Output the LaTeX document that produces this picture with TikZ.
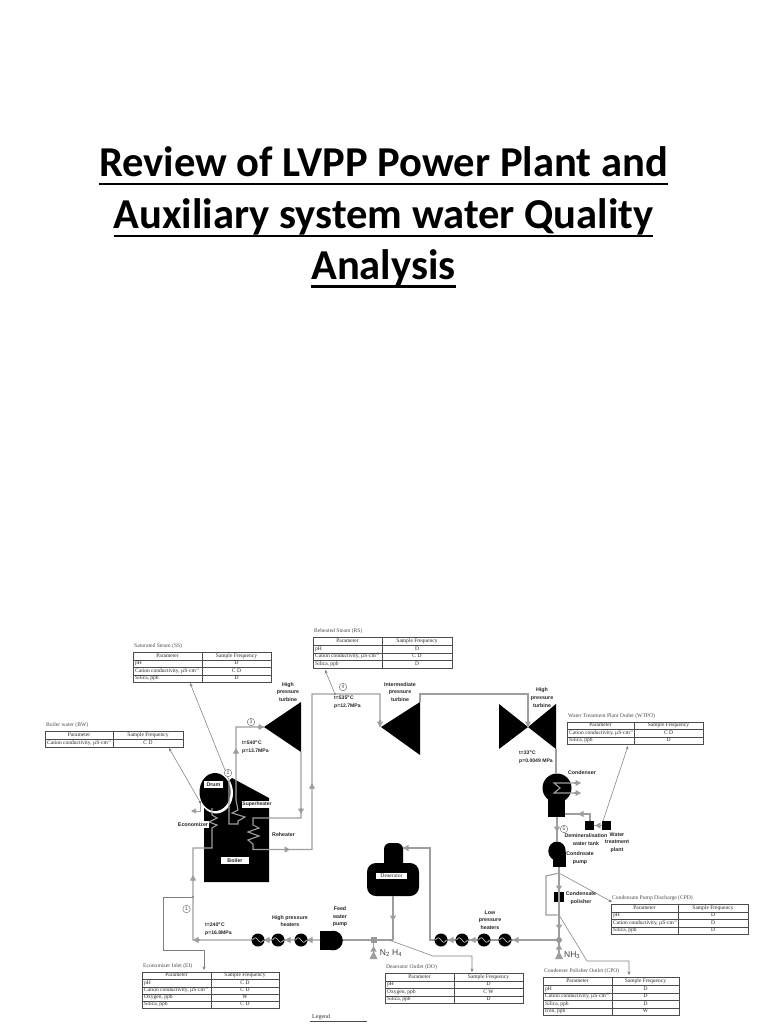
\documentclass[tikz,border=0pt]{standalone}
\usepackage{fontspec}
\setmainfont{Liberation Serif}
\newfontfamily\labelfont{Liberation Sans}
\newfontfamily\titlefont{Carlito}
\usetikzlibrary{arrows.meta,calc}
\newcommand{\ultitle}[1]{\setbox0\hbox{#1}\rlap{\rule[-8.2pt]{\wd0}{2.6pt}}\box0}
\colorlet{pipecol}{black!38}
\colorlet{thincol}{black!50}
\tikzset{
 pipe/.style={draw=pipecol,line width=1.1pt},
 flow/.style={draw=pipecol,line width=1.1pt,-{Triangle[length=5.5pt,width=6pt]}},
 probe/.style={draw=thincol,line width=.55pt},
 probearrow/.style={draw=thincol,line width=.55pt,-{Stealth[length=3.5pt,width=3pt]}},
 tbl/.style={draw=black!70,line width=.6pt},
 celltext/.style={font=\fontsize{5.5}{6}\selectfont,text=black!85,inner sep=0pt,text height=3.7pt,text depth=1.1pt},
 tabtitle/.style={font=\fontsize{5.6}{6}\selectfont,text=black!70,inner sep=0pt,anchor=base west},
 lab/.style={font=\labelfont\bfseries\fontsize{5.3}{7.6}\selectfont,align=center,inner sep=0pt,text=black!85},
 whitelab/.style={lab,fill=white,inner sep=0.8pt,minimum height=7pt},
 state/.style={font=\labelfont\bfseries\fontsize{5.1}{8}\selectfont,align=left,inner sep=0pt,anchor=north west,text=black!85},
 heater/.style={circle,fill=black,minimum size=13pt,inner sep=0pt},
 num/.style={circle,draw=black!60,line width=.4pt,minimum size=7.5pt,inner sep=0pt,font=\labelfont\fontsize{5}{5}\selectfont,text=black!70,fill=white},
 valve/.style={fill=black!40,minimum size=6pt,inner sep=0pt},
 dotj/.style={circle,fill=black!70,minimum size=2.4pt,inner sep=0pt},
 head/.style={font=\titlefont\bfseries\fontsize{42.6}{42}\selectfont,anchor=base,inner sep=0pt},
}
% x0 xm x1 ytop ysplit title rows(y0/y1/param/freq)
\newcommand{\ptable}[7]{%
 \node[tabtitle] at (#1+1,#4-5) {#6};
 \draw[tbl] (#1,#4) rectangle (#2,#5);
 \draw[tbl] (#2,#4) rectangle (#3,#5);
 \node[celltext] at ({(#1+#2)/2},{(#4+#5)/2}) {Parameter};
 \node[celltext] at ({(#2+#3)/2},{(#4+#5)/2}) {Sample Frequency};
 \foreach \ya/\yb/\pa/\fr in {#7} {
  \draw[tbl] (#1,\ya) rectangle (#2,\yb);
  \draw[tbl] (#2,\ya) rectangle (#3,\yb);
  \node[celltext,anchor=west] at (#1+2,{(\ya+\yb)/2}) {\pa};
  \node[celltext] at ({(#2+#3)/2},{(\ya+\yb)/2}) {\fr};
 }
}
\newcommand{\condtxt}{Cation conductivity, µS·cm\textsuperscript{-1}}
\begin{document}
\begin{tikzpicture}[x=1pt,y=-1pt]
\useasboundingbox (0,0) rectangle (768,1024);
% heading
\node[head] (t1) at (383.5,177) {\ultitle{Review of LVPP Power Plant and}};
\node[head] (t2) at (383.5,229) {\ultitle{Auxiliary system water Quality}};
\node[head] (t3) at (383.5,279.5) {\ultitle{Analysis}};
% tables
\ptable{133}{202}{271}{652}{660}{Saturated Steam (SS)}{660/667/pH/D,667/675/\condtxt/C D,675/682/{Silica, ppb}/D}
\ptable{45}{113}{183}{731}{739}{Boiler water (BW)}{739/747/\condtxt/C D}
\ptable{313}{382}{452}{637}{645}{Reheated Steam (RS)}{645/653/pH/D,653/660/\condtxt/C D,660/668/{Silica, ppb}/D}
\ptable{567}{634}{703}{722}{729}{Water Treatment Plant Outlet (WTPO)}{729/737/\condtxt/C D,737/744/{Silica, ppb}/D}
\ptable{611}{678}{748}{904}{912}{Condensate Pump Discharge (CPD)}{912/919/pH/D,919/927/\condtxt/D,927/934/{Silica, ppb}/D}
\ptable{543}{612}{679}{977}{985}{Condenser Polisher  Outlet (CPO)}{985/993/pH/D,993/1000/\condtxt/D,1000/1008/{Silica, ppb}/D,1008/1015/{Iron, ppb}/W}
\ptable{142}{211}{279}{972}{979}{Economizer Inlet (EI)}{979/987/pH/C D,987/994/\condtxt/C D,994/1001/{Oxygen, ppb}/W,1001/1008/{Silica, ppb}/C D}
\ptable{385}{454}{523}{973}{981}{Deaerator Outlet (DO)}{981/988/pH/D,988/996/{Oxygen, ppb}/C W,996/1003/{Silica, ppb}/D}
% named points
\coordinate (hpA) at (264,727); \coordinate (hpT) at (301,702); \coordinate (hpB) at (301,752);
\coordinate (ipA) at (381,727); \coordinate (ipT) at (420,702); \coordinate (ipB) at (420,755);
\coordinate (lpA) at (528,727);
% black equipment
\fill (hpA) -- (hpT) -- (hpB) -- cycle;
\fill (ipA) -- (ipT) -- (ipB) -- cycle;
\fill (499,704) -- (lpA) -- (556,704) -- (556,749) -- (lpA) -- (499,749) -- cycle;
\fill (232,778) -- (269,798) -- (269,882) -- (204,882) -- (204,805) -- cycle;
\fill[white] (216,793) ellipse [x radius=17,y radius=20.5];
\fill (215,792) ellipse [x radius=15.5,y radius=19];
\fill (557,788) circle [radius=14.5];
\fill (548,795) rectangle (565,817);
\fill (557,851) ellipse [x radius=8.7,y radius=9.5];
\fill (553,852) rectangle (566,867);
\fill (320,931) rectangle (331,950);
\fill (333,940.5) circle [radius=9.8];
\fill[rounded corners=6pt] (384,843) rectangle (403,870);
\fill[rounded corners=9pt] (367,863) rectangle (419,896);
\fill (554,892) rectangle (564,902);
\fill (585,821) rectangle (594,830);
\fill (602,821) rectangle (611,830);
% junctions
\node[dotj] (jEI) at (193,897) {};
\node[dotj] (jRS) at (335,694) {};
\node[dotj] (jCPD) at (559,873) {};
\node[dotj] (jCPO) at (559,915) {};
\node[dotj] (jDO) at (389,940) {};
\node[dotj] (jBW) at (200,802) {};
\coordinate (drumOut) at (229,780);
% process pipes
\draw[pipe] (drumOut) -- (229,824) -- (238,824) -- (238,821) -- (245,817) -- (232,813) -- (238,810) -- (236,800) -- (236,727) -- (hpA);
\draw[pipe] (hpB) -- (301,818) -- (253,818) -- (253,825) -- (259,828) -- (248,832) -- (259,836) -- (248,840) -- (253,844) -- (253,849.5) -- (312,849.5) -- (312,694) -- (380,694) -- (380,727);
\draw[pipe] (420,702) -- (420,694) -- (528,694) -- (lpA);
\draw[pipe] (556,749) -- (556,773);
\draw[pipe] (580,783) -- (554,783) -- (560,788) -- (554,793) -- (580,793);
\draw[pipe] (557,817) -- (557,842);
\draw[pipe] (590,821) -- (590,814) -- (565,814);
\draw[pipe] (602,825.5) -- (594,825.5);
\draw[pipe] (559,867) -- (559,958);
\draw[pipe] (jCPD) -- (546,876) -- (546,915) -- (jCPO);
\draw[pipe] (559,940) -- (430,940) -- (430,848) -- (403,848);
\draw[pipe] (393,896) -- (393,940);
\draw[pipe] (343,940) -- (393,940);
\draw[pipe] (320,940) -- (193,940) -- (193,848) -- (212,848) -- (212,828) -- (217,825) -- (209,822) -- (217,818) -- (212,815) -- (212,808);
\draw[pipe] (373.5,940) -- (373.5,957);
% mid-line arrows
\draw[flow] (258,727) -- (264,727);
\draw[flow] (236,754) -- (236,748);
\draw[flow] (301,808) -- (301,814);
\draw[flow] (284,849.5) -- (290,849.5);
\draw[flow] (312,789) -- (312,783);
\draw[flow] (380,720) -- (380,727);
\draw[flow] (528,720) -- (lpA);
\draw[flow] (574,783) -- (581,783);
\draw[flow] (574,793) -- (581,793);
\draw[flow] (584,814) -- (578,814);
\draw[flow] (600,825.5) -- (595,825.5);
\draw[flow] (557,826) -- (557,832);
\draw[flow] (559,885) -- (559,891);
\draw[flow] (559,924) -- (559,930);
\draw[flow] (559,958) -- (559,944);
\draw[flow] (373.5,957) -- (373.5,946);
\draw[flow] (410,848) -- (403,848);
\draw[flow] (393,915) -- (393,921);
\draw[flow] (200,940) -- (193,940);
\draw[flow] (193,881) -- (193,875);
\draw[flow] (519,940) -- (513,940);
\draw[flow] (476,940) -- (470,940);
\draw[flow] (453,940) -- (448,940);
\draw[flow] (312,940) -- (307,940);
\draw[flow] (291,940) -- (285,940);
\draw[flow] (270,940) -- (264,940);
% base triangles below dosing points
\fill[pipecol] (373.5,951) -- (377.5,959) -- (369.5,959) -- cycle;
\fill[pipecol] (559,951) -- (563,959) -- (555,959) -- cycle;
% valves
\node[valve] (v1) at (373.5,940) {};
\node[valve,circle] (v2) at (559,940) {};
% heaters
\node[heater] (h1) at (258,940) {};
\node[heater] (h2) at (278,940) {};
\node[heater] (h3) at (301,940) {};
\node[heater] (l1) at (441,940) {};
\node[heater] (l2) at (462,940) {};
\node[heater] (l3) at (484,940) {};
\node[heater] (l4) at (505,940) {};
\foreach \n in {h1,h2,h3,l1,l2,l3,l4}
 \draw[black!25,line width=.7pt] ([xshift=-5.5pt]\n.center) sin ++(2.75pt,2.3pt) cos ++(2.75pt,-2.3pt) sin ++(2.75pt,-2.3pt) cos ++(2.75pt,2.3pt);
% sampling lines
\draw[probearrow] (drumOut) -- (190,683);
\draw[probearrow] (jBW) -- (169,748);
\draw[pipe,line width=.7pt,-{Triangle[length=5pt,width=5pt]}] (jBW) -- (200,811) -- (191,811);
\draw[probearrow] (jRS) -- (325,670);
\draw[probearrow] (603,821) -- (628,746);
\draw[probearrow] (jCPD) -- (612,902);
\draw[probearrow] (jCPO) -- (587,961) -- (629,961) -- (629,975);
\draw[probearrow] (jDO) -- (433,956) -- (472,956) -- (472,972);
\draw[probearrow] (jEI) -- (163,897) -- (163,950) -- (204,950) -- (204,970);
% labelled boxes on equipment
\node[whitelab,minimum width=19pt] (drum) at (213.5,784.5) {Drum};
\node[whitelab,font=\labelfont\bfseries\fontsize{5}{7}\selectfont] (sh) at (257,804) {Superheater};
\node[whitelab] (eco) at (193,824.5) {Economizer};
\node[whitelab,minimum width=28pt] (boiler) at (235,860.5) {Boiler};
\node[lab,fill=white,inner sep=0.6pt,minimum width=31pt,minimum height=6pt,font=\fontsize{5.6}{6}\selectfont] (dea) at (391.5,876) {Deaerator};
% labels
\node[lab] (lhp) at (288,692) {High\\pressure\\turbine};
\node[lab] (lip) at (400,692) {Intermediate\\pressure\\turbine};
\node[lab] (llp) at (542,697.5) {High\\pressure\\turbine};
\node[lab,anchor=west] (lre) at (272,835) {Reheater};
\node[lab] (lcon) at (582,773) {Condenser};
\node[lab] (ldem) at (586,839.5) {Demineralisation\\water tank};
\node[lab] (lwtp) at (617,842.5) {Water\\treatment\\plant};
\node[lab] (lcp) at (580,858) {Condnsate\\pump};
\node[lab] (lpol) at (581,898) {Condensate\\polisher};
\node[lab] (lfw) at (340,917) {Feed\\water\\pump};
\node[lab] (lhph) at (290,921) {High pressure\\heaters};
\node[lab] (llph) at (490,920) {Low\\pressure\\heaters};
\node[state] (s1) at (242,740) {t=540\textsuperscript{o}C\\p=13.7MPa};
\node[state] (s2) at (334,695) {t=535\textsuperscript{o}C\\p=12.7MPa};
\node[state] (s3) at (519,750) {t=33\textsuperscript{o}C\\p=0.0049 MPa};
\node[state] (s4) at (205,922) {t=240\textsuperscript{o}C\\p=16.8MPa};
\node[num] (n1) at (186.5,909) {1};
\node[num] (n2) at (228,773) {2};
\node[num] (n3) at (251,722) {3};
\node[num] (n4) at (343,687) {4};
\node[num] (n5) at (564,829) {5};
\node[inner sep=0pt,font=\labelfont\fontsize{8.5}{9}\selectfont,text=black!75] (n2h4) at (391,953) {N\textsubscript{2} H\textsubscript{4}};
\node[inner sep=0pt,font=\labelfont\fontsize{8.5}{9}\selectfont,text=black!75,anchor=west] (nh3) at (564,955) {NH\textsubscript{3}};
\node[tabtitle,text=black!80,font=\fontsize{6}{6}\selectfont] (leg) at (312,1018) {Legend};
\draw[tbl] (310,1021) -- (367,1021);
\end{tikzpicture}
\end{document}
